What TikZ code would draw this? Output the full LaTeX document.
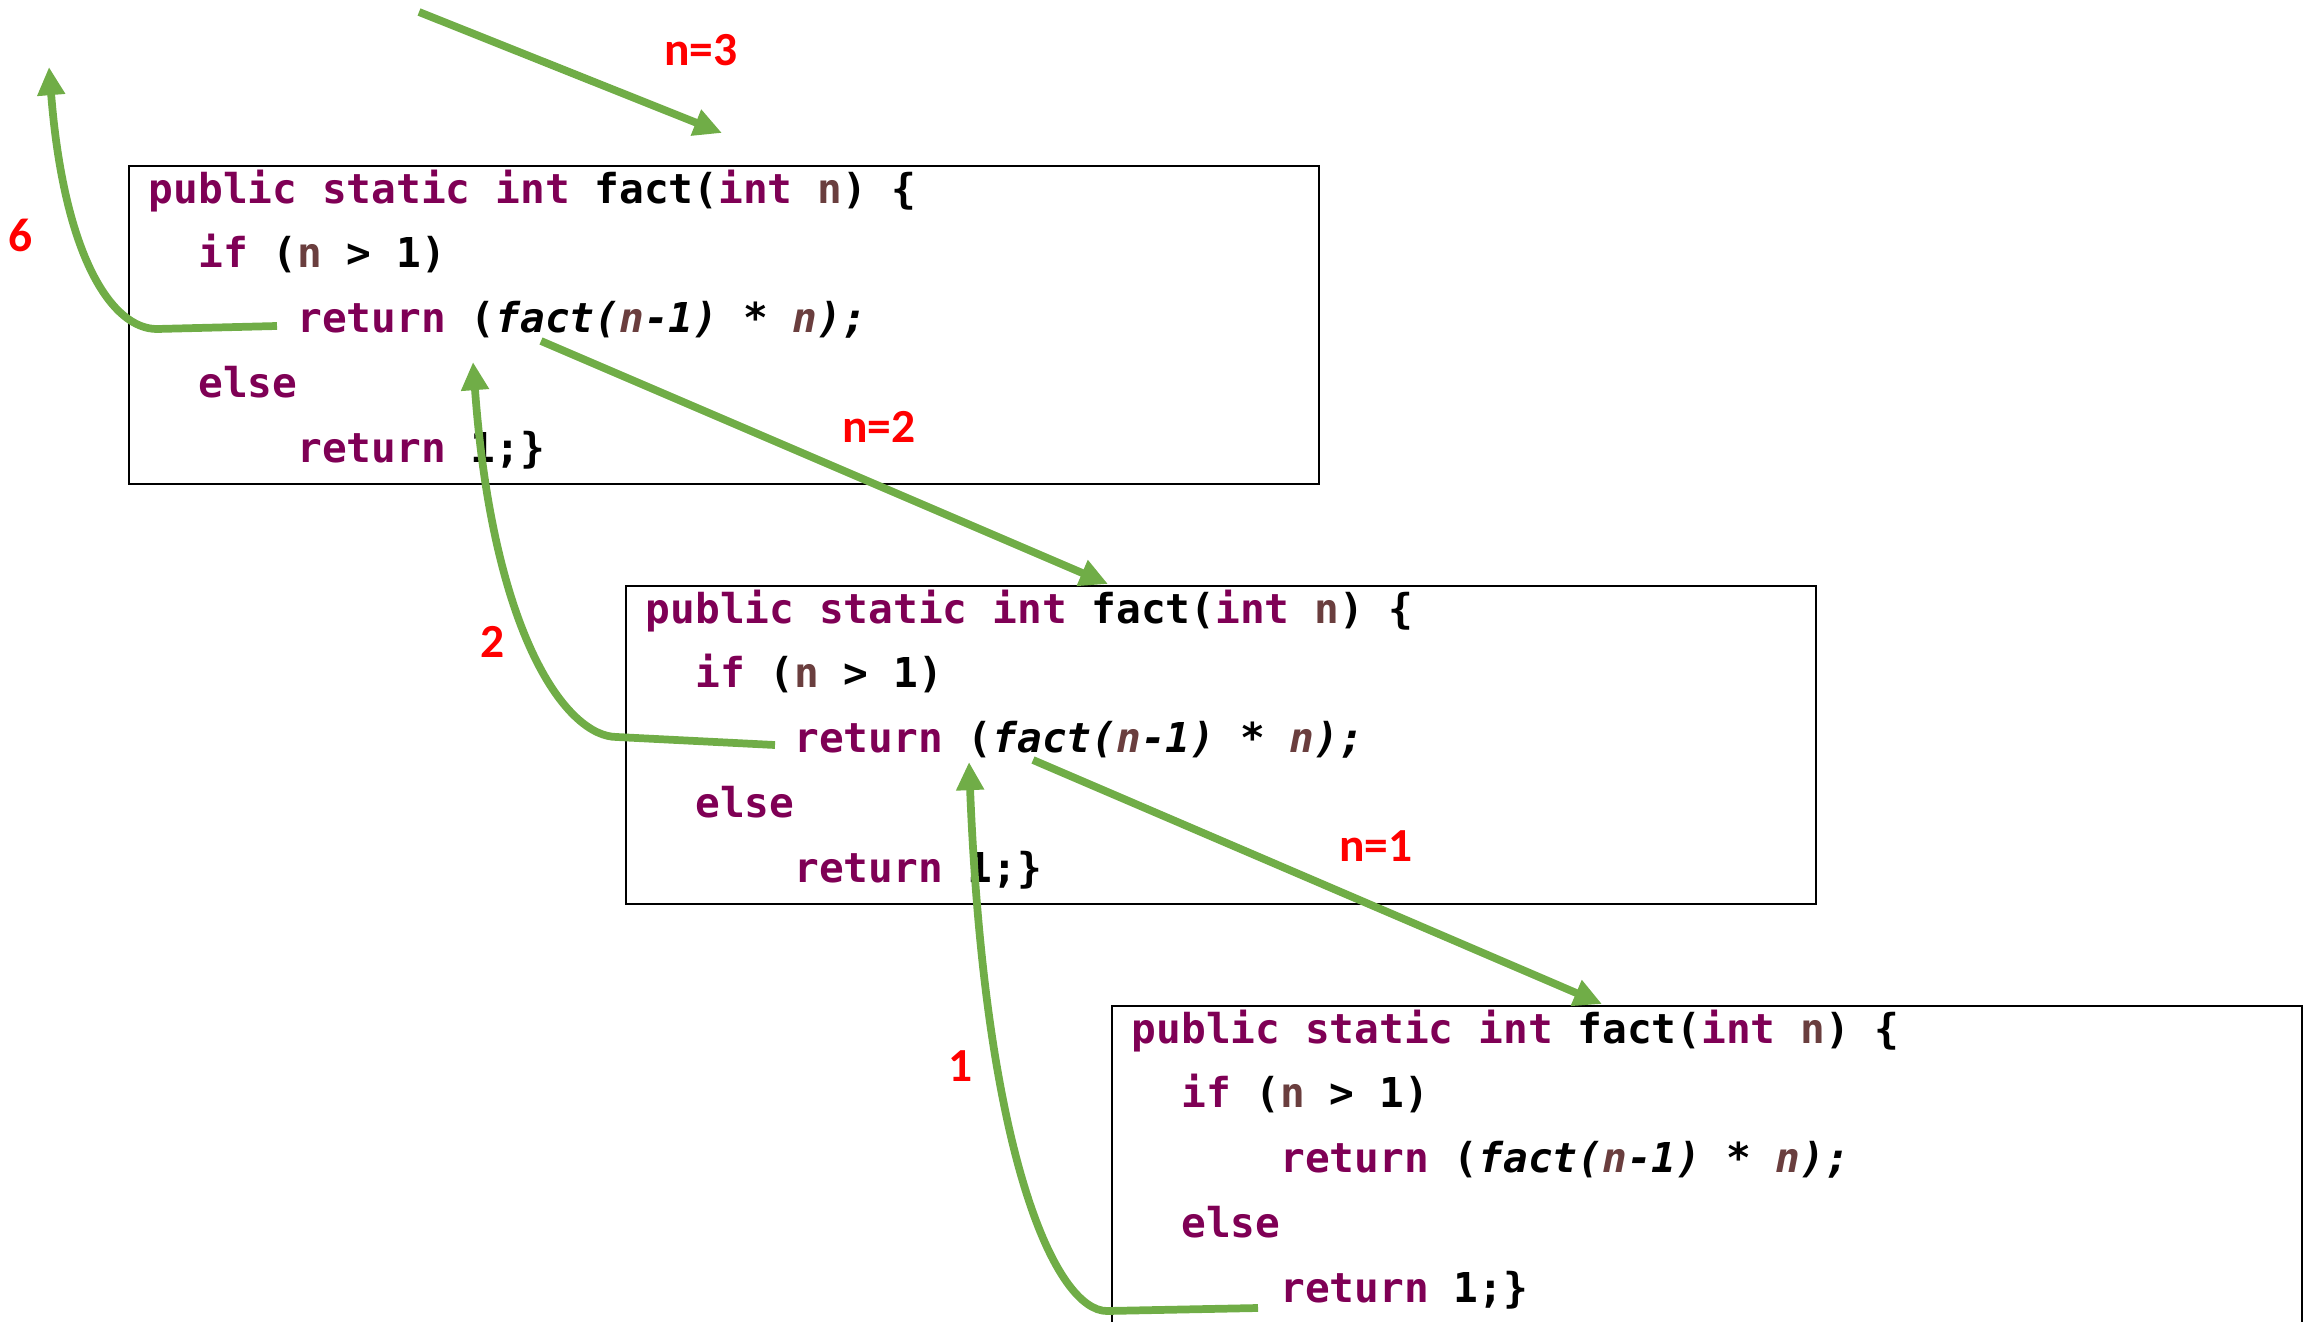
\documentclass[tikz,border=0pt]{standalone}
\usepackage{fontspec}
\setmonofont{DejaVu Sans Mono}
\newfontfamily\lblfont{Carlito}
\usepackage{xcolor}
\usepackage{tikz}
\usetikzlibrary{arrows.meta}
\definecolor{kwpurple}{HTML}{7F0055}
\definecolor{varbrown}{HTML}{6A3E3E}
\definecolor{flowgreen}{HTML}{70AD47}
\newcommand{\jkw}[1]{\textcolor{kwpurple}{#1}}
\newcommand{\pvar}[1]{\textcolor{varbrown}{#1}}

\begin{document}
\begin{tikzpicture}[x=0.01cm, y=-0.01cm,
      codebox/.style={draw, rectangle, line width=0.6pt, anchor=north west, inner sep=0pt, minimum width=11.89cm, minimum height=3.18cm},
      codeline/.style={anchor=base west, inner sep=0pt, font=\ttfamily\bfseries\fontsize{11.7}{14}\selectfont},
      steplabel/.style={text=red, inner sep=0pt, font=\lblfont\bfseries\fontsize{13.5}{16}\selectfont},
      flow/.style={draw=flowgreen, line width=2.2pt, -{Triangle[length=8pt,width=7.5pt]}}
    ]
    \useasboundingbox (0,0) rectangle (2315,1321);

    \foreach \bx/\by/\i in {128/165/1, 625/585/2, 1111/1005/3} {
      \node[codebox] (box\i) at (\bx,\by) {};
      \node[codeline] (head\i) at (\bx+20,\by+38) {\jkw{public static int} fact(\jkw{int} \pvar{n}) \{};
      \node[codeline] (cond\i) at (\bx+20,\by+102.75) {\hphantom{xx}\jkw{if} (\pvar{n} > 1)};
      \node[codeline] (rec\i) at (\bx+20,\by+167.5) {\hphantom{xxxxxx}\jkw{return} (\textit{fact(\pvar{n}-1)} * \textit{\pvar{n});}};
      \node[codeline] (else\i) at (\bx+20,\by+232.25) {\hphantom{xx}\jkw{else}};
      \node[codeline] (base\i) at (\bx+20,\by+297) {\hphantom{xxxxxx}\jkw{return} 1;\}};
    }

    \node[steplabel] (n3) at (701,50) {n=3};
    \node[steplabel] (s6) at (21,235) {6};
    \node[steplabel] (n2) at (879,427) {n=2};
    \node[steplabel] (s2) at (493,642) {2};
    \node[steplabel] (n1) at (1376,846) {n=1};
    \node[steplabel] (s1) at (961,1066) {1};

    \coordinate (entry) at (419,12);
    \coordinate (entrytip) at (722,133);
    \coordinate (call2) at (541,341);
    \coordinate (call2tip) at (1108,584);
    \coordinate (call1) at (1033,760);
    \coordinate (call1tip) at (1602,1004);
    \coordinate (ret6) at (277,326);
    \coordinate (ret6bend) at (157,329);
    \coordinate (ret6tip) at (49,67);
    \coordinate (ret2) at (775,745);
    \coordinate (ret2bend) at (617,737);
    \coordinate (ret2tip) at (473,362);
    \coordinate (ret1) at (1258,1308);
    \coordinate (ret1bend) at (1107,1311);
    \coordinate (ret1tip) at (969,762);

    \draw[flow] (entry) -- (entrytip);
    \draw[flow] (call2) -- (call2tip);
    \draw[flow] (call1) -- (call1tip);
    \draw[flow] (ret6) -- (ret6bend) .. controls +(-45,0) and +(15,190) .. (ret6tip);
    \draw[flow] (ret2) -- (ret2bend) .. controls +(-50,0) and +(20,275) .. (ret2tip);
    \draw[flow] (ret1) -- (ret1bend) .. controls +(-50,0) and +(16,400) .. (ret1tip);
  \end{tikzpicture}
\end{document}
